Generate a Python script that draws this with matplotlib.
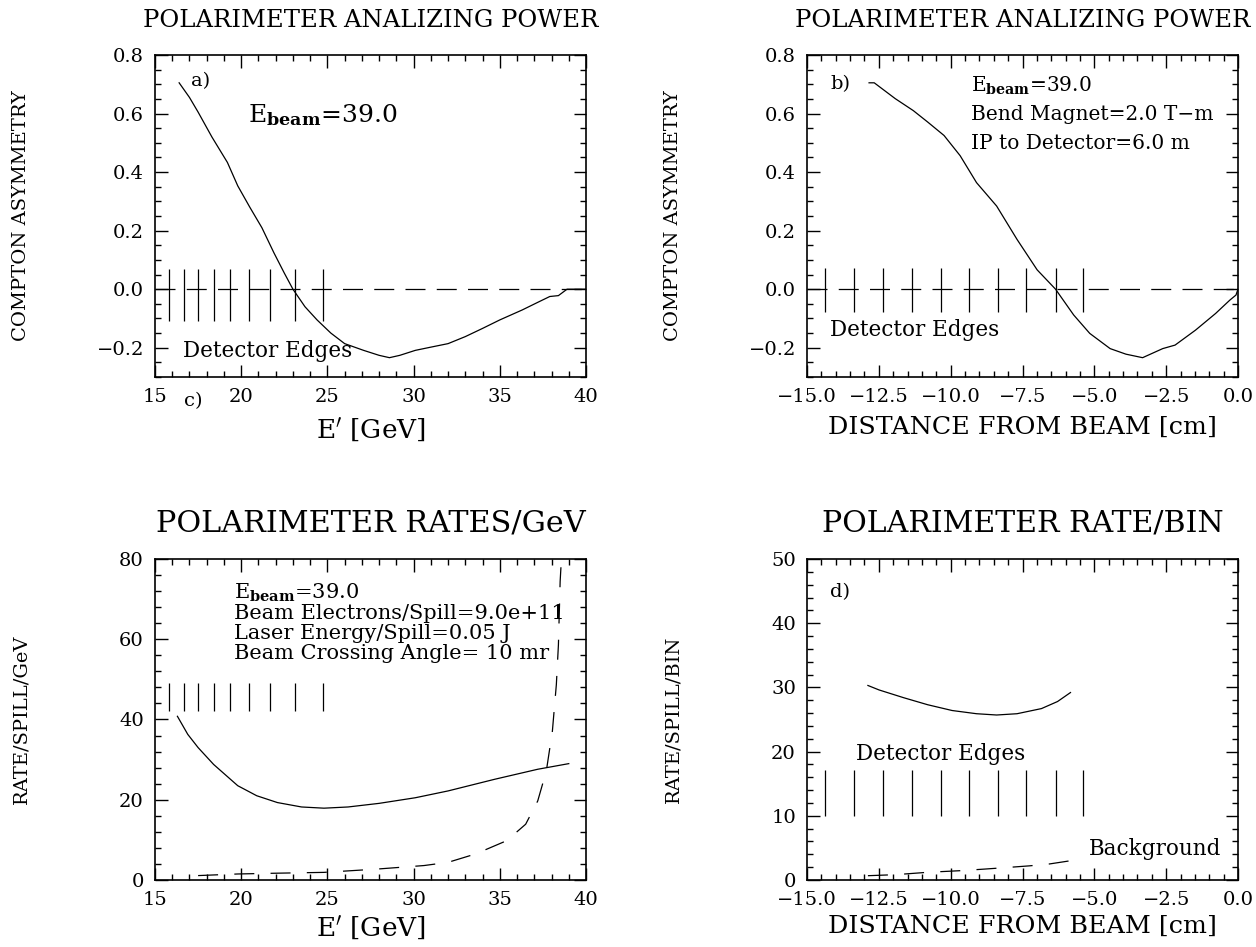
import numpy as np
import matplotlib
matplotlib.use("Agg")
import matplotlib.pyplot as plt
from matplotlib.ticker import MultipleLocator

plt.rcParams['font.family'] = ['DejaVu Serif']
plt.rcParams['mathtext.fontset'] = 'dejavuserif'
plt.rcParams['axes.unicode_minus'] = True

# a) asymmetry vs scattered energy
a_x = [16.4, 17.0, 17.5, 18.3, 19.2, 19.8, 20.5, 21.2, 21.9, 22.5, 23.0, 23.7, 24.4, 25.2,
       26.0, 27.1, 28.0, 28.6, 29.2, 30.1, 31.0, 32.0, 33.0, 34.0, 35.0, 36.3, 37.2, 37.9,
       38.4, 38.9, 40.0]
a_y = [0.705, 0.655, 0.605, 0.52, 0.433, 0.353, 0.28, 0.21, 0.124, 0.055, 0.0, -0.06, -0.105,
       -0.15, -0.186, -0.209, -0.226, -0.234, -0.226, -0.209, -0.198, -0.186, -0.162, -0.134,
       -0.105, -0.071, -0.045, -0.025, -0.022, 0.0, 0.0]
a_edges = [15.83, 16.68, 17.48, 18.4, 19.37, 20.43, 21.69, 23.14, 24.72]

# b) asymmetry vs distance from beam
b_x = [-12.84, -12.66, -11.93, -11.3, -10.8, -10.23, -9.67, -9.1, -8.4, -7.69, -6.99, -6.35,
       -5.72, -5.16, -4.45, -3.9, -3.32, -2.62, -2.19, -1.48, -0.78, -0.28, -0.07, 0.0]
b_y = [0.705, 0.705, 0.651, 0.61, 0.571, 0.525, 0.456, 0.364, 0.284, 0.17, 0.066, 0.0,
       -0.088, -0.151, -0.203, -0.222, -0.234, -0.203, -0.191, -0.14, -0.083, -0.037, -0.02, 0.0]
b_edges = [-14.39, -13.36, -12.35, -11.36, -10.35, -9.36, -8.37, -7.37, -6.35, -5.4]

# c) rates per GeV
c_x = [16.3, 16.9, 17.5, 18.4, 19.8, 20.9, 22.1, 23.5, 24.8, 26.2, 28.0, 30.1, 32.0, 34.7,
       37.2, 39.0]
c_y = [40.8, 36.3, 33.0, 28.8, 23.5, 21.0, 19.3, 18.2, 17.9, 18.2, 19.1, 20.5, 22.2, 25.1,
       27.6, 29.0]
c_bg_x = [17.5, 19.8, 22.1, 24.8, 27.8, 30.6, 32.0, 33.6, 35.4, 36.5, 37.2, 37.7, 38.05,
          38.28, 38.4, 38.5, 38.6]
c_bg_y = [1.1, 1.5, 1.7, 1.9, 2.7, 3.6, 4.4, 6.5, 9.8, 13.9, 19.7, 27.2, 37.1, 48.7, 58.6,
          74.4, 82.0]
c_edges = a_edges

# d) rate per bin
d_x = [-12.88, -12.49, -11.64, -10.8, -9.95, -9.1, -8.4, -7.69, -6.84, -6.28, -5.83]
d_y = [30.3, 29.6, 28.4, 27.3, 26.4, 25.9, 25.7, 25.9, 26.7, 27.8, 29.2]
d_bg_x = [-12.88, -11.92, -10.8, -9.67, -8.82, -7.97, -7.27, -6.56, -5.83]
d_bg_y = [0.67, 0.83, 1.2, 1.45, 1.7, 1.97, 2.2, 2.5, 3.0]
d_edges = b_edges

W, H = 1256, 947
fig = plt.figure(figsize=(W / 100, H / 100), dpi=100)


def make_ax(left, top, right, bottom):
    ax = fig.add_axes([left / W, 1 - bottom / H, (right - left) / W, (bottom - top) / H])
    ax.tick_params(which='both', direction='in', top=True, right=True, labelsize=14,
                   pad=8, width=1.0)
    ax.tick_params(which='major', length=9)
    ax.tick_params(which='minor', length=4)
    for s in ax.spines.values():
        s.set_linewidth(1.2)
    return ax


def dist_fmt(v, p):
    return ('%.1f' % v).replace('-', '\u2212') if abs(v) > 1e-9 else '0.0'


DASH = (16, 9)
DASH2 = (16, 13)

# panel a
ax = make_ax(155, 55, 586, 377)
ax.plot(a_x, a_y, color='black', lw=0.9)
ax.axhline(0, color='black', lw=0.9, dashes=DASH)
ax.vlines(a_edges, -0.11, 0.07, color='black', lw=0.9)
ax.set_xlim(15, 40)
ax.set_ylim(-0.3, 0.8)
ax.xaxis.set_major_locator(MultipleLocator(5))
ax.xaxis.set_minor_locator(MultipleLocator(1))
ax.yaxis.set_major_locator(MultipleLocator(0.2))
ax.yaxis.set_minor_locator(MultipleLocator(0.05))
ax.set_title('POLARIMETER ANALIZING POWER', fontsize=17.5, pad=20)
ax.set_xlabel(r"E$'$ [GeV]", fontsize=19, labelpad=7)
ax.set_ylabel('COMPTON ASYMMETRY', fontsize=14)
ax.yaxis.set_label_coords(-0.29, 0.5)
ax.text(17.1, 0.71, 'a)', fontsize=14, va='center')
ax.text(20.4, 0.595, r'E$_{\mathbf{beam}}$=39.0', fontsize=18, va='center')
ax.text(16.6, -0.21, 'Detector Edges', fontsize=15.5, va='center')
ax.text(17.2, -0.075, 'c)', fontsize=14, va='center', ha='center',
        transform=ax.get_xaxis_transform(), clip_on=False)

# panel b
ax = make_ax(807, 55, 1238, 377)
ax.plot(b_x, b_y, color='black', lw=0.9)
ax.axhline(0, color='black', lw=0.9, dashes=DASH)
ax.vlines(b_edges, -0.077, 0.072, color='black', lw=0.9)
ax.set_xlim(-15, 0)
ax.set_ylim(-0.3, 0.8)
ax.xaxis.set_major_locator(MultipleLocator(2.5))
ax.xaxis.set_minor_locator(MultipleLocator(0.5))
ax.yaxis.set_major_locator(MultipleLocator(0.2))
ax.yaxis.set_minor_locator(MultipleLocator(0.05))
ax.xaxis.set_major_formatter(dist_fmt)
ax.set_title('POLARIMETER ANALIZING POWER', fontsize=17.5, pad=20)
ax.set_xlabel('DISTANCE FROM BEAM [cm]', fontsize=18.3, labelpad=7)
ax.set_ylabel('COMPTON ASYMMETRY', fontsize=14)
ax.yaxis.set_label_coords(-0.29, 0.5)
ax.text(-14.2, 0.70, 'b)', fontsize=14, va='center')
ax.text(-9.3, 0.695, r'E$_{\mathbf{beam}}$=39.0', fontsize=14.5, va='center')
ax.text(-9.3, 0.596, 'Bend Magnet=2.0 T\u2212m', fontsize=14.5, va='center')
ax.text(-9.3, 0.496, 'IP to Detector=6.0 m', fontsize=14.5, va='center')
ax.text(-14.2, -0.14, 'Detector Edges', fontsize=15.5, va='center')

# panel c
ax = make_ax(155, 559, 586, 880)
ax.plot(c_x, c_y, color='black', lw=0.9)
ax.plot(c_bg_x, c_bg_y, color='black', lw=0.9, dashes=DASH2)
ax.vlines(c_edges, 42.1, 49.1, color='black', lw=0.9)
ax.set_xlim(15, 40)
ax.set_ylim(0, 80)
ax.xaxis.set_major_locator(MultipleLocator(5))
ax.xaxis.set_minor_locator(MultipleLocator(1))
ax.yaxis.set_major_locator(MultipleLocator(20))
ax.yaxis.set_minor_locator(MultipleLocator(4))
ax.set_title('POLARIMETER RATES/GeV', fontsize=21.8, pad=20)
ax.set_xlabel(r"E$'$ [GeV]", fontsize=19, labelpad=4)
ax.set_ylabel('RATE/SPILL/GeV', fontsize=14)
ax.yaxis.set_label_coords(-0.29, 0.5)
c_lines = [r'E$_{\mathbf{beam}}$=39.0', 'Beam Electrons/Spill=9.0e+11',
           'Laser Energy/Spill=0.05 J', 'Beam Crossing Angle= 10 mr']
for i, s in enumerate(c_lines):
    ax.text(19.6, 71.5 - 5.0 * i, s, fontsize=15, va='center')

# panel d
ax = make_ax(807, 559, 1238, 880)
ax.plot(d_x, d_y, color='black', lw=0.9)
ax.plot(d_bg_x, d_bg_y, color='black', lw=0.9, dashes=DASH2)
ax.vlines(d_edges, 10.0, 17.1, color='black', lw=0.9)
ax.set_xlim(-15, 0)
ax.set_ylim(0, 50)
ax.xaxis.set_major_locator(MultipleLocator(2.5))
ax.xaxis.set_minor_locator(MultipleLocator(0.5))
ax.yaxis.set_major_locator(MultipleLocator(10))
ax.yaxis.set_minor_locator(MultipleLocator(2))
ax.xaxis.set_major_formatter(dist_fmt)
ax.set_title('POLARIMETER RATE/BIN', fontsize=21.6, pad=20)
ax.set_xlabel('DISTANCE FROM BEAM [cm]', fontsize=18.3, labelpad=4)
ax.set_ylabel('RATE/SPILL/BIN', fontsize=14)
ax.yaxis.set_label_coords(-0.29, 0.5)
ax.text(-14.2, 44.8, 'd)', fontsize=14, va='center')
ax.text(-13.3, 19.7, 'Detector Edges', fontsize=15.5, va='center')
ax.text(-5.2, 4.8, 'Background', fontsize=15.5, va='center')

fig.savefig('out.png', dpi=100)
